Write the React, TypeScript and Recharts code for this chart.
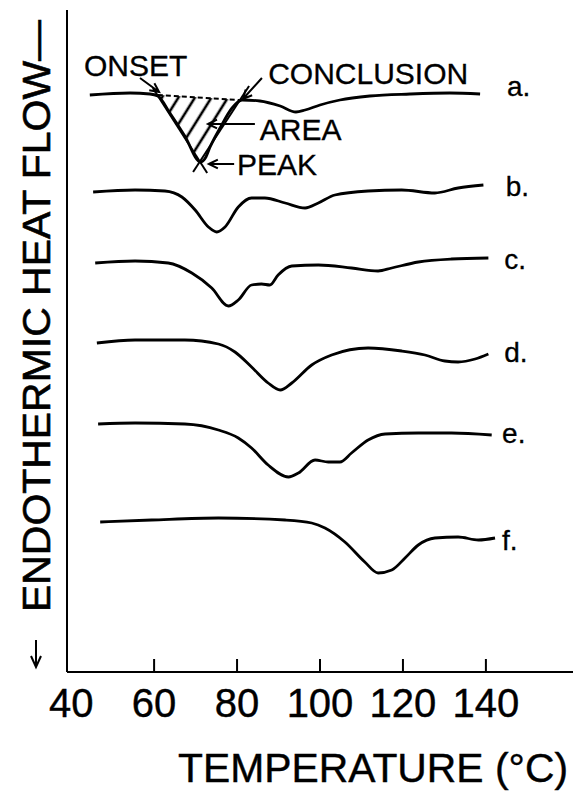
import React from 'react';
import { ComposedChart, Line, Area, XAxis, YAxis, ReferenceDot } from 'recharts';

const FONT = '"Liberation Sans", Arial, Helvetica, sans-serif';

const xTicks = [40, 60, 80, 100, 120, 140];

// temperature (°C) vs endothermic heat flow (arbitrary units, traces offset)
const curveA = [
  [44.5, 57.7], [54.2, 57.9], [59.0, 57.8], [60.9, 57.6], [63.8, 55.9], [67.4, 53.6],
  [71.2, 51.0], [72.5, 51.5], [73.5, 52.5], [75.9, 54.4], [78.8, 56.4], [81.2, 57.2],
  [85.5, 57.1], [90.4, 56.6], [94.2, 56.0], [96.4, 56.2], [100, 56.7], [104.8, 57.2],
  [112, 57.6], [121.7, 57.8], [131.3, 57.9], [138.6, 57.8],
];
const curveB = [
  [45.3, 48.0], [55.4, 48.2], [62.6, 48.1], [66.7, 47.5], [69.9, 46.2], [73.1, 44.5],
  [75.1, 44.0], [77.1, 44.5], [80.3, 46.5], [83.5, 47.4], [86.7, 47.4], [91.6, 46.9],
  [96.4, 46.4], [99.6, 46.9], [103.6, 47.7], [111.6, 48.1], [119.7, 48.2], [127.7, 47.9],
  [133.3, 48.4], [139.4, 48.7],
];
const curveC = [
  [45.8, 40.9], [55.4, 41.1], [63.4, 40.9], [69.1, 39.9], [73.9, 38.4], [77.9, 36.6],
  [80.3, 37.2], [83.5, 38.7], [85.9, 38.8], [87.9, 38.7], [89.9, 39.7], [93.2, 40.6],
  [99.6, 40.7], [107.6, 40.4], [114, 40.1], [117.3, 40.4], [123.7, 41.0], [131.7, 41.3],
  [140.6, 41.4],
];
const curveD = [
  [46.2, 32.9], [55.4, 33.2], [67.4, 33.2], [75.5, 32.8], [79.5, 32.0], [83.5, 30.5],
  [87.5, 28.9], [90.4, 28.2], [93.2, 28.9], [98, 30.7], [102.8, 31.7], [111.6, 32.4],
  [119.7, 32.1], [125.3, 31.7], [130.1, 31.1], [133.3, 31.0], [137.4, 31.3], [140.6, 31.8],
];
const curveE = [
  [46.5, 24.8], [55.4, 24.9], [67.4, 24.8], [75.5, 24.2], [80.3, 23.4], [83.5, 22.4],
  [87.5, 20.7], [92.4, 19.5], [94.8, 19.9], [98.8, 21.2], [102, 21.0], [104.8, 21.0],
  [107.6, 21.9], [111.6, 23.2], [115.7, 23.8], [123.7, 23.9], [131.7, 23.9], [141.4, 23.7],
];
const curveF = [
  [47, 15.0], [59.4, 15.2], [75.5, 15.4], [91.6, 15.2], [98, 14.9], [101.2, 14.4],
  [106, 13.0], [110.8, 11.0], [114, 9.9], [117.3, 10.2], [120.5, 11.4], [123.7, 12.7],
  [127.7, 13.4], [133.3, 13.5], [138.2, 13.2], [142.2, 13.4],
];

const curveNames = ['a.', 'b.', 'c.', 'd.', 'e.', 'f.'];
const curveLabelPos = [
  [145.1, 57.6], [144.8, 47.6], [144.4, 40.3], [144.4, 31.0], [143.9, 22.9], [143.9, 12.2],
];

// construction on trace a
const baseline = [[60.9, 57.7], [80.5, 57.2]];
const leftTangent = [[59.7, 58.4], [72.8, 49.9]];
const rightTangent = [[82.9, 58.6], [69.4, 50.0]];
const hatchRegion = [
  { t: 60.9, r: [57.7, 57.7] },
  { t: 71.0, r: [51.0, 57.45] },
  { t: 80.5, r: [57.2, 57.2] },
];

const annotations = [
  { text: 'ONSET', pos: [43.1, 59.6] },
  { text: 'CONCLUSION', pos: [87.5, 58.8] },
  { text: 'AREA', pos: [85.5, 53.2] },
  { text: 'PEAK', pos: [80.0, 49.7] },
];
const arrows = [
  { from: [56.6, 59.4], to: [61.2, 58.0] },
  { from: [86.0, 59.4], to: [81.4, 57.3] },
  { from: [84.3, 54.8], to: [73.0, 54.8] },
  { from: [79.3, 50.8], to: [73.2, 50.8] },
];

const X_DOMAIN = [39, 161];
const Y_DOMAIN = [0, 66.2];
const PLOT_W = 506;
const PLOT_H = 662;
const KX = PLOT_W / (X_DOMAIN[1] - X_DOMAIN[0]);
const KY = PLOT_H / (Y_DOMAIN[1] - Y_DOMAIN[0]);

const pts = (arr: number[][]) => arr.map(([t, v]) => ({ t, v }));

const arrowPts = (from: number[], to: number[]) => {
  const dx = (to[0] - from[0]) * KX;
  const dy = (to[1] - from[1]) * KY;
  const len = Math.hypot(dx, dy);
  const ux = dx / len;
  const uy = dy / len;
  const L = 10;
  const a = 0.45;
  const head = (s: number) => {
    const rx = ux * Math.cos(s * a) - uy * Math.sin(s * a);
    const ry = ux * Math.sin(s * a) + uy * Math.cos(s * a);
    return [to[0] - (L * rx) / KX, to[1] - (L * ry) / KY];
  };
  return pts([from, to, head(1), to, head(-1)]);
};

const Tick = (props: any) => {
  const { x, y, payload } = props;
  return (
    <g>
      {payload.value !== 40 && (
        <line x1={x} y1={y} x2={x} y2={y - 13} stroke="#000" strokeWidth={2} />
      )}
      <text x={x} y={y + 45} textAnchor="middle" fontSize={40} fontFamily={FONT} fill="#000"
        stroke="#000" strokeWidth={0.4}>
        {payload.value}
      </text>
    </g>
  );
};

const XTitle = (props: any) => {
  const vb = props.viewBox;
  return (
    <text x={vb.x + 111} y={vb.y + 110} fontSize={41} fontFamily={FONT} fill="#000"
      stroke="#000" strokeWidth={0.4} textLength={390} lengthAdjust="spacingAndGlyphs">
      TEMPERATURE (°C)
    </text>
  );
};

const YTitle = (props: any) => {
  const vb = props.viewBox;
  const x = vb.x + vb.width - 17;
  const y0 = vb.y + 602;
  return (
    <g>
      <text transform={`translate(${x},${y0}) rotate(-90)`} fontSize={39} fontFamily={FONT}
        fill="#000" stroke="#000" strokeWidth={0.6} textLength={592}
        lengthAdjust="spacingAndGlyphs">
        ENDOTHERMIC HEAT FLOW—
      </text>
      <line x1={x - 14} y1={vb.y + 630} x2={x - 14} y2={vb.y + 656} stroke="#000" strokeWidth={2} />
      <polyline points={`${x - 19},${vb.y + 646} ${x - 14},${vb.y + 657} ${x - 9},${vb.y + 646}`}
        fill="none" stroke="#000" strokeWidth={2} />
    </g>
  );
};

const textShape = (label: string, size: number) => (p: any) => (
  <text x={p.cx} y={p.cy} fontSize={size} fontFamily={FONT} fill="#000"
    stroke="#000" strokeWidth={0.3}>{label}</text>
);

const curves = [curveA, curveB, curveC, curveD, curveE, curveF];

export default function App() {
  return (
    <div style={{ position: 'absolute', left: 0, top: 0, width: 573, height: 791, background: '#fff' }}>
      <ComposedChart width={573} height={791} margin={{ top: 10, right: 0, left: 66, bottom: 118 }}>
        <defs>
          <pattern id="hatch" width="14" height="14" patternUnits="userSpaceOnUse"
            patternTransform="rotate(32)">
            <line x1="7" y1="0" x2="7" y2="14" stroke="#000" strokeWidth={2.6} />
          </pattern>
        </defs>
        <XAxis type="number" dataKey="t" domain={X_DOMAIN} ticks={xTicks} height={1}
          tickSize={0} tickMargin={0} tickLine={false} tick={<Tick />} interval={0}
          axisLine={{ stroke: '#000', strokeWidth: 2 }} label={XTitle} allowDataOverflow />
        <YAxis type="number" dataKey="v" domain={Y_DOMAIN} width={1} tick={false} tickLine={false}
          axisLine={{ stroke: '#000', strokeWidth: 2 }} label={YTitle} allowDataOverflow />
        <Area data={hatchRegion} dataKey="r" type="linear" stroke="none" fill="url(#hatch)"
          fillOpacity={1} isAnimationActive={false} />
        <Line data={pts(baseline)} dataKey="v" type="linear" stroke="#000" strokeWidth={2}
          strokeDasharray="5 3" dot={false} isAnimationActive={false} />
        <Line data={pts(leftTangent)} dataKey="v" type="linear" stroke="#000" strokeWidth={2}
          dot={false} isAnimationActive={false} />
        <Line data={pts(rightTangent)} dataKey="v" type="linear" stroke="#000" strokeWidth={2}
          dot={false} isAnimationActive={false} />
        {curves.map((c, i) => (
          <Line key={curveNames[i]} data={pts(c)} dataKey="v" type="monotone" stroke="#000"
            strokeWidth={2.8} dot={false} isAnimationActive={false} />
        ))}
        {arrows.map((a, i) => (
          <Line key={'arr' + i} data={arrowPts(a.from, a.to)} dataKey="v" type="linear"
            stroke="#000" strokeWidth={2} dot={false} isAnimationActive={false} />
        ))}
        {annotations.map((a) => (
          <ReferenceDot key={a.text} x={a.pos[0]} y={a.pos[1]} r={1}
            shape={textShape(a.text, 30)} />
        ))}
        {curveNames.map((n, i) => (
          <ReferenceDot key={'lab' + n} x={curveLabelPos[i][0]} y={curveLabelPos[i][1]} r={1}
            shape={textShape(n, 28)} />
        ))}
      </ComposedChart>
    </div>
  );
}
